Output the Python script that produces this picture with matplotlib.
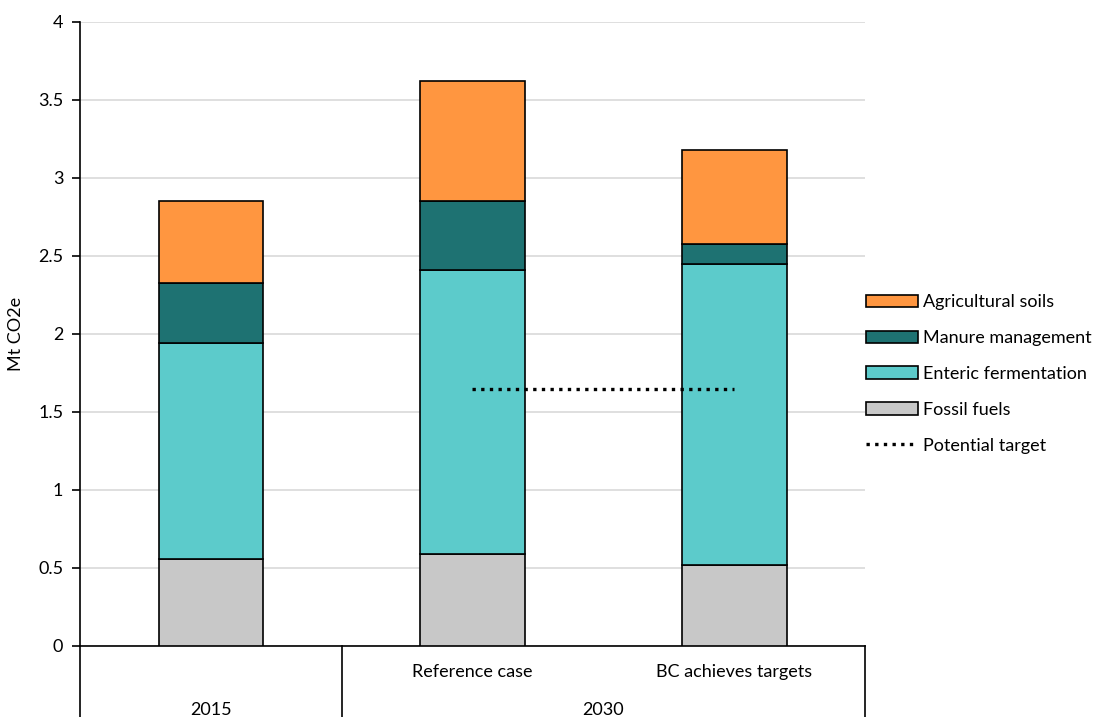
import matplotlib
matplotlib.use('Agg')
import matplotlib.pyplot as plt
import matplotlib.transforms as mtransforms
import numpy as np

plt.rcParams['font.family'] = ['Lato', 'DejaVu Sans']

# Scenarios and emissions by source (Mt CO2e)
scenarios = ['2015', 'Reference case', 'BC achieves targets']
years = ['2015', '2030']
fossil_fuels = [0.56, 0.59, 0.52]
enteric_fermentation = [1.38, 1.82, 1.93]
manure_management = [0.39, 0.44, 0.13]
agricultural_soils = [0.52, 0.77, 0.60]
potential_target = 1.65

colors = {
    'Fossil fuels': '#c8c8c8',
    'Enteric fermentation': '#5ccbcb',
    'Manure management': '#1e7272',
    'Agricultural soils': '#ff9640',
}

fig = plt.figure(figsize=(10.99, 7.17), dpi=100)
ax = fig.add_axes([80 / 1099, 71 / 717, 785 / 1099, 624 / 717])

x = np.arange(len(scenarios))
bottom = np.zeros(len(scenarios))
series = [('Fossil fuels', fossil_fuels),
          ('Enteric fermentation', enteric_fermentation),
          ('Manure management', manure_management),
          ('Agricultural soils', agricultural_soils)]
handles = {}
for name, vals in series:
    b = ax.bar(x, vals, width=0.4, bottom=bottom, color=colors[name],
               edgecolor='black', linewidth=1.2, label=name, zorder=3)
    handles[name] = b
    bottom += np.array(vals)

target, = ax.plot([x[1], x[2]], [potential_target, potential_target],
                  linestyle=(0, (1, 1.6)), color='black', linewidth=2.4,
                  label='Potential target', zorder=4)

ax.set_xlim(-0.5, 2.5)
ax.set_ylim(0, 4)
ax.set_yticks(np.arange(0, 4.01, 0.5))
ax.set_yticklabels(['0', '0.5', '1', '1.5', '2', '2.5', '3', '3.5', '4'])
ax.yaxis.grid(True, color='#d9d9d9', linewidth=1.2, zorder=0)
ax.set_axisbelow(True)
ax.tick_params(axis='y', labelsize=13, length=6, width=1.2, direction='out', pad=6)
ax.set_xticks([])
for s in ['top', 'right']:
    ax.spines[s].set_visible(False)
ax.spines['left'].set_linewidth(1.2)
ax.spines['bottom'].set_linewidth(1.2)
ax.set_ylabel('Mt CO2e', fontsize=13, labelpad=10)

# two-level category axis below the plot
trans = mtransforms.blended_transform_factory(ax.transData, ax.transAxes)
sep_y = -71 / 624
for xv in [-0.5, 0.5, 2.5]:
    ax.plot([xv, xv], [0, sep_y], transform=trans, color='black',
            linewidth=1.2, clip_on=False)
for xv, lab in zip(x[1:], scenarios[1:]):
    ax.text(xv, -26 / 624, lab, transform=trans, ha='center', va='center', fontsize=13)
ax.text(0, -64 / 624, years[0], transform=trans, ha='center', va='center', fontsize=13)
ax.text(1.5, -64 / 624, years[1], transform=trans, ha='center', va='center', fontsize=13)

order = ['Agricultural soils', 'Manure management', 'Enteric fermentation', 'Fossil fuels']
leg = fig.legend([handles[n] for n in order] + [target], order + ['Potential target'],
                 loc='center left', bbox_to_anchor=(859 / 1099, 1 - 374 / 717),
                 frameon=False, fontsize=13, handlelength=2.85, handleheight=0.7,
                 handletextpad=0.3, labelspacing=1.1, borderaxespad=0)

fig.savefig('out.png', dpi=100)
